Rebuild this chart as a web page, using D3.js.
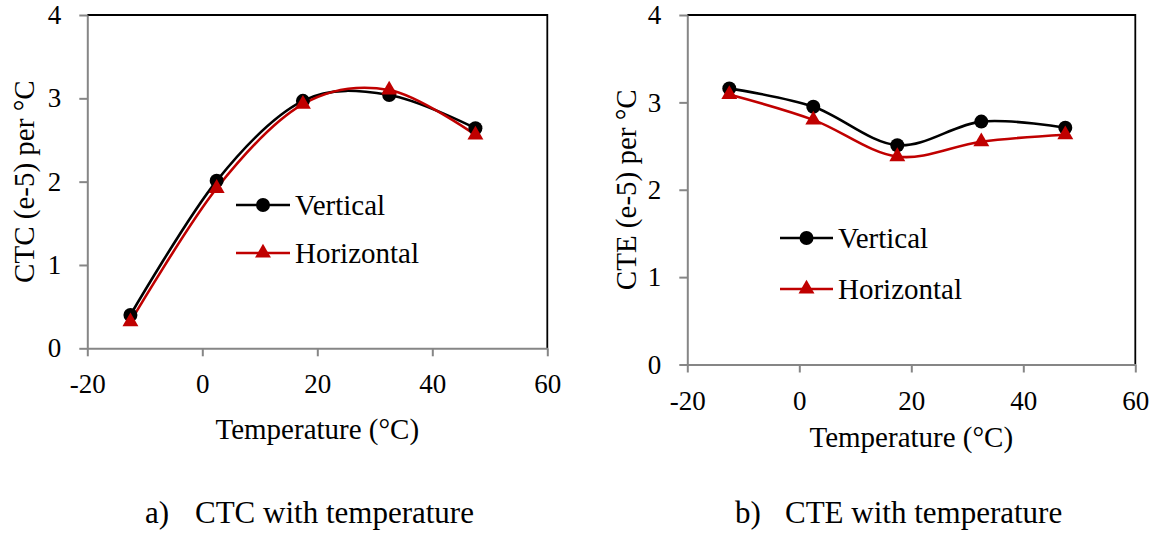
<!DOCTYPE html>
<html lang="en">
<head>
  <meta charset="utf-8">
  <title>CTC / CTE with temperature</title>
  <script src="https://d3js.org/d3.v7.min.js"></script>
  <style>
  body {
    margin: 0;
    background: white;
    font-family: "Liberation Serif", "Times New Roman", serif;
  }
  .tick text {
    font-family: "Liberation Serif", "Times New Roman", serif;
    font-size: 27px;
    fill: black;
  }
  .axis-title, .legend-label {
    font-size: 29px;
    fill: black;
  }
  .caption {
    font-size: 31px;
    fill: black;
  }
  </style>
</head>
<body>
<script>

// Data
var temps = [-12.5, 2.5, 17.5, 32.5, 47.5];
var ctcVertical = [0.40, 2.01, 2.97, 3.04, 2.64];
var ctcHorizontal = [0.32, 1.92, 2.93, 3.10, 2.56];
var cteVertical = [3.16, 2.95, 2.51, 2.78, 2.71];
var cteHorizontal = [3.09, 2.80, 2.38, 2.55, 2.63];
var xTicks = [-20, 0, 20, 40, 60];
var yTicks = [0, 1, 2, 3, 4];
var seriesNames = ["Vertical", "Horizontal"];

// Display constants
var width = 1160;
var height = 533;
var axisGrey = "#868686";
var red = "#C00000";

var svg = d3.select("body")
  .append("svg")
  .attr("width", width)
  .attr("height", height)
  .attr("font-family", "Liberation Serif, Times New Roman, serif");

var panels = [
  {
    left: 87.3, right: 547.3, top: 15, bottom: 348.3,
    ytitle: "CTC (e-5) per °C", ytitleX: 34,
    xtitleY: 439,
    series: [ctcVertical, ctcHorizontal],
    legend: {x1: 236, x2: 290, y: [205, 253]},
    caption: ["a)", "CTC with temperature"], capX: [145, 195]
  },
  {
    left: 687.3, right: 1135.3, top: 15, bottom: 364.5,
    ytitle: "CTE (e-5) per °C", ytitleX: 636,
    xtitleY: 447,
    series: [cteVertical, cteHorizontal],
    legend: {x1: 780, x2: 833, y: [238, 289]},
    caption: ["b)", "CTE with temperature"], capX: [735, 785]
  }
];

var colors = ["black", red];
var triangle = d3.symbol().type(d3.symbolTriangle).size(110);
var fmt = function(d) { return String(d); };   // plain hyphen minus like the original

panels.forEach(function(p) {
  var x = d3.scaleLinear().domain([-20, 60]).range([p.left, p.right]);
  var y = d3.scaleLinear().domain([0, 4]).range([p.bottom, p.top]);

  var g = svg.append("g");

  // black top and right border
  g.append("path")
    .attr("d", "M" + p.left + "," + p.top + "H" + p.right + "V" + p.bottom)
    .attr("fill", "none")
    .attr("stroke", "black")
    .attr("stroke-width", 1.8);

  var yAxis = g.append("g")
    .attr("transform", "translate(" + p.left + ",0)")
    .call(d3.axisLeft(y).tickValues(yTicks).tickFormat(fmt)
      .tickSize(8).tickSizeOuter(0).tickPadding(18));

  var xAxis = g.append("g")
    .attr("transform", "translate(0," + p.bottom + ")")
    .call(d3.axisBottom(x).tickValues(xTicks).tickFormat(fmt)
      .tickSize(8).tickSizeOuter(0).tickPadding(18));

  [yAxis, xAxis].forEach(function(a) {
    a.attr("font-family", null).attr("font-size", null);
    a.select(".domain").attr("stroke", axisGrey).attr("stroke-width", 2);
    a.selectAll(".tick line").attr("stroke", axisGrey).attr("stroke-width", 2);
  });

  // axis titles
  g.append("text")
    .attr("class", "axis-title")
    .attr("text-anchor", "middle")
    .attr("x", (p.left + p.right) / 2)
    .attr("y", p.xtitleY)
    .text("Temperature (°C)");

  g.append("text")
    .attr("class", "axis-title")
    .attr("text-anchor", "middle")
    .attr("transform", "translate(" + p.ytitleX + "," + ((p.top + p.bottom) / 2) + ") rotate(-90)")
    .text(p.ytitle);

  // smoothed lines (Excel style)
  var line = d3.line()
    .x(function(d, i) { return x(temps[i]); })
    .y(function(d) { return y(d); })
    .curve(d3.curveCatmullRom.alpha(0));

  p.series.forEach(function(vals, si) {
    g.append("path")
      .datum(vals)
      .attr("fill", "none")
      .attr("stroke", colors[si])
      .attr("stroke-width", 2.6)
      .attr("d", line);
  });

  p.series.forEach(function(vals, si) {
    if (si == 0) {
      g.selectAll(null)
        .data(vals)
        .enter().append("circle")
        .attr("cx", function(d, i) { return x(temps[i]); })
        .attr("cy", function(d) { return y(d); })
        .attr("r", 7)
        .attr("fill", "black");
    } else {
      g.selectAll(null)
        .data(vals)
        .enter().append("path")
        .attr("d", triangle)
        .attr("transform", function(d, i) { return "translate(" + x(temps[i]) + "," + y(d) + ")"; })
        .attr("fill", red);
    }
  });

  // legend
  seriesNames.forEach(function(name, si) {
    var ly = p.legend.y[si];
    var mx = (p.legend.x1 + p.legend.x2) / 2;
    g.append("line")
      .attr("x1", p.legend.x1).attr("x2", p.legend.x2)
      .attr("y1", ly).attr("y2", ly)
      .attr("stroke", colors[si])
      .attr("stroke-width", 2.6);
    if (si == 0) {
      g.append("circle").attr("cx", mx).attr("cy", ly).attr("r", 7).attr("fill", "black");
    } else {
      g.append("path").attr("d", triangle)
        .attr("transform", "translate(" + mx + "," + ly + ")")
        .attr("fill", red);
    }
    g.append("text")
      .attr("class", "legend-label")
      .attr("x", p.legend.x2 + 5)
      .attr("y", ly + 10)
      .text(name);
  });

  // caption
  p.caption.forEach(function(t, i) {
    svg.append("text")
      .attr("class", "caption")
      .attr("x", p.capX[i])
      .attr("y", 523)
      .text(t);
  });
});
</script>
</body>
</html>
